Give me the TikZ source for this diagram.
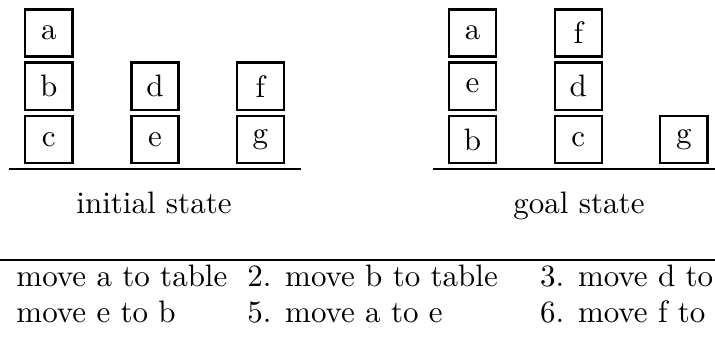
\documentclass[tikz,border=0pt]{standalone}
\usetikzlibrary{calc}
\begin{document}
\begin{tikzpicture}[x=0.3226pt,y=-0.3226pt,
  blk/.style={draw,line width=0.75pt,minimum size=15.2pt,inner sep=0pt},
  txt/.style={inner sep=0pt},
  ground/.style={line width=0.7pt}]
\useasboundingbox (0,0) rectangle (715,336);
\clip (0,0) rectangle (715,336);
% initial state
\node[blk] (ia) at (48.8,33) {a};
\node[blk] (ib) at (48.8,86.2) {b};
\node[blk] (ic) at (48.8,139.7) {c};
\node[blk] (id) at (155,86.2) {d};
\node[blk] (ie) at (155,139.7) {e};
\node[blk] (if) at (260.3,86.2) {f};
\node[blk] (ig) at (260.3,139.7) {g};
\coordinate (il) at (9,169);
\coordinate (ir) at (301,169);
\draw[ground] (il) -- (ir);
\node[txt,anchor=base] (ilab) at (154,213.3) {initial state};
% goal state
\node[blk] (ga) at (472.5,33) {a};
\node[blk] (ge) at (472.5,86.2) {e};
\node[blk] (gb) at (472.5,139.7) {b};
\node[blk] (gf) at (578.3,33) {f};
\node[blk] (gd) at (578.3,86.2) {d};
\node[blk] (gc) at (578.3,139.7) {c};
\node[blk] (gg) at (683.8,139.7) {g};
\coordinate (gl) at (432.7,169);
\coordinate (gr) at (730,169);
\draw[ground] (gl) -- (gr);
\node[txt,anchor=base] (glab) at (579,213.3) {goal state};
% plan
\coordinate (pl) at (-10,260);
\coordinate (pr) at (730,260);
\draw[ground] (pl) -- (pr);
\node[txt,anchor=base east] (t1) at (228,286.5) {1. move a to table};
\node[txt,anchor=base west] (t2) at (246.7,286.5) {2. move b to table};
\node[txt,anchor=base west] (t3) at (539.5,286.5) {3. move d to c};
\node[txt,anchor=base west] (t4) at ($(t1.base west)+(0,36.2)$) {4. move e to b};
\node[txt,anchor=base west] (t5) at ($(t2.base west)+(0,36.2)$) {5. move a to e};
\node[txt,anchor=base west] (t6) at ($(t3.base west)+(0,36.2)$) {6. move f to d};
\end{tikzpicture}
\end{document}
